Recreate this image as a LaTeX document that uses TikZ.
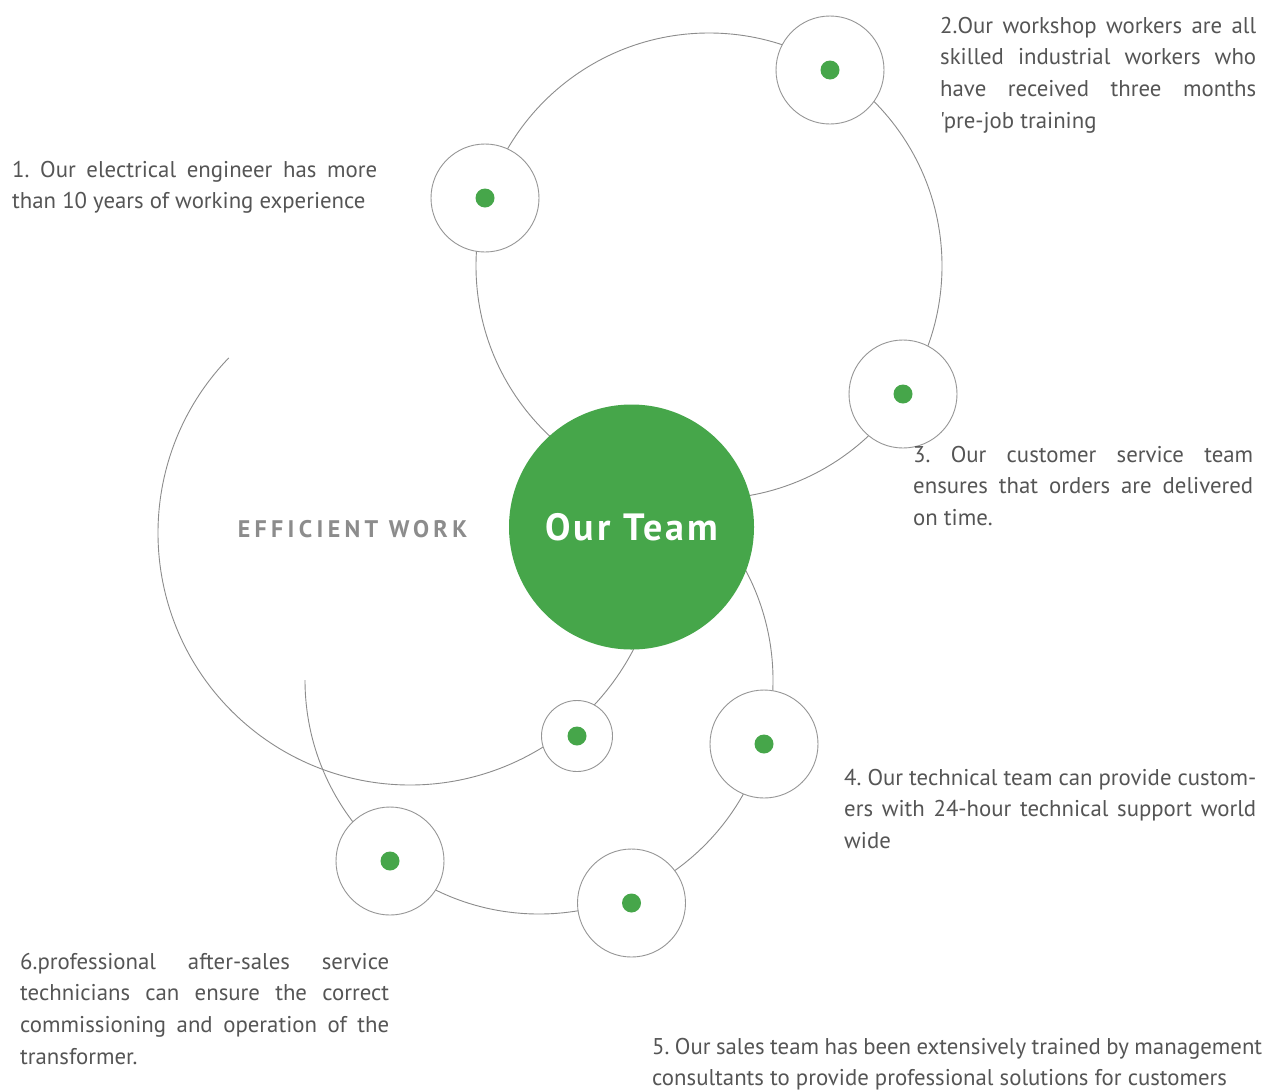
\documentclass[tikz,border=0pt]{standalone}
\usepackage{fontspec}
\usetikzlibrary{calc}
\setmainfont[Ligatures=TeXOff]{PT Sans}
\newfontfamily\teamfont[LetterSpace=8]{PT Sans}
\newfontfamily\effont[LetterSpace=18]{PT Sans}
\definecolor{tgreen}{RGB}{70,166,74}
\definecolor{arcgray}{RGB}{140,140,140}
\definecolor{ringgray}{RGB}{150,150,150}
\definecolor{txtgray}{RGB}{85,85,85}
\definecolor{efgray}{RGB}{140,140,140}
\newcommand{\firststrut}{\rule{0pt}{20pt}}
\frenchspacing
\begin{document}
\begin{tikzpicture}[x=1pt,y=-1pt,
  arcline/.style={draw=arcgray, line width=0.9pt},
  ring/.style={circle, draw=ringgray, fill=white, line width=0.9pt, minimum size=108pt, inner sep=0pt},
  smallring/.style={ring, minimum size=71pt},
  dotmark/.style={circle, fill=tgreen, minimum size=19pt, inner sep=0pt},
  desc/.style={anchor=north west, inner sep=0pt, align=left, text=txtgray, font=\fontsize{22.8}{31.6}\selectfont\frenchspacing}]
\fill[white] (0,0) rectangle (1276,1090);
\useasboundingbox (0,0) rectangle (1276,1090);
% big circles
\coordinate (cA) at (709,266);
\coordinate (cB) at (410,533);
\coordinate (cC) at (539,680);
\draw[arcline] (cA) circle[radius=233];
\draw[arcline] ($(cB)+(224:252)$) arc[start angle=224, end angle=20, radius=252];
\draw[arcline] ($(cC)+(180:234)$) arc[start angle=180, end angle=-35, radius=234];
% centre
\node[circle, fill=tgreen, minimum size=245pt, inner sep=0pt] (team) at (631.5,527) {};
\node[text=white, font=\teamfont\bfseries\fontsize{38}{40}\selectfont] (teamlabel) at (team.center) {Our Team};
\node[text=efgray, font=\effont\bfseries\fontsize{24}{28}\selectfont] (eff) at (352.5,529) {EFFICIENT WORK};
% rings
\node[ring] (s1) at (485,198) {};
\node[ring] (s2) at (830,70) {};
\node[ring] (s3) at (903,394) {};
\node[ring] (s4) at (764,744) {};
\node[ring] (s5) at (631.5,903) {};
\node[ring] (s6) at (390,861) {};
\node[smallring] (s7) at (577,736) {};
\foreach \n in {s1,s2,s3,s4,s5,s6,s7}{\node[dotmark] at (\n.center) {};}
% texts
\node[desc] (t1) at (12,157) {\firststrut\makebox[365pt][s]{1. Our electrical engineer has more}\\than 10 years of working experience};
\node[desc] (t2) at (940,13) {\firststrut\makebox[316pt][s]{2.Our workshop workers are all}\\\makebox[316pt][s]{skilled industrial workers who}\\\makebox[316pt][s]{have received three months}\\'pre-job training};
\node[desc] (t3) at (913,442) {\firststrut\makebox[340pt][s]{3. Our customer service team}\\\makebox[340pt][s]{ensures that orders are delivered}\\on time.};
\node[desc] (t4) at (844,765) {\firststrut\makebox[412pt][s]{4. Our technical team can provide custom-}\\\makebox[412pt][s]{ers with 24-hour technical support world}\\wide};
\node[desc] (t5) at (652,1034) {\firststrut\makebox[610pt][s]{5. Our sales team has been extensively trained by management}\\consultants to provide professional solutions for customers};
\node[desc] (t6) at (20,949) {\firststrut\makebox[369pt][s]{6.professional after-sales service}\\\makebox[369pt][s]{technicians can ensure the correct}\\\makebox[369pt][s]{commissioning and operation of the}\\transformer.};
\end{tikzpicture}
\end{document}
